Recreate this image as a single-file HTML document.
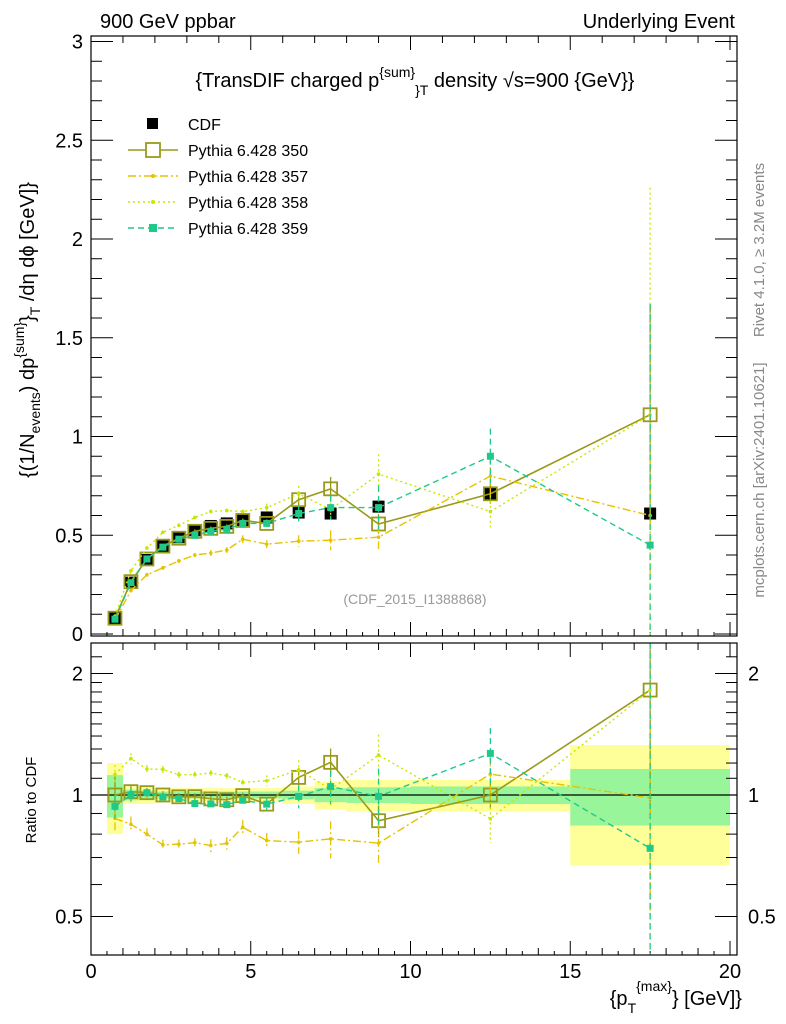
<!DOCTYPE html>
<html><head><meta charset="utf-8"><style>
body{margin:0;background:#fff;}
svg{display:block;font-family:"Liberation Sans",sans-serif;}
</style></head><body>
<svg id="c" width="786" height="1024" viewBox="0 0 786 1024">
<g id="bands"></g>
<g id="ticks"></g>
<g id="series"></g>
<rect x="91" y="36" width="646" height="600" fill="none" stroke="#000" stroke-width="1.2"/>
<rect x="91" y="643" width="646" height="312" fill="none" stroke="#000" stroke-width="1.2"/>
<text x="100" y="28" font-size="20">900 GeV ppbar</text>
<text x="735" y="28" font-size="20" text-anchor="end">Underlying Event</text>
<text x="415" y="87" font-size="20" text-anchor="middle">{TransDIF charged p<tspan dy="-10" font-size="14">{sum}</tspan><tspan dy="18" font-size="14">}</tspan><tspan font-size="14">T</tspan><tspan dy="-8"> density √s=900 {GeV}}</tspan></text>
<text x="415" y="604" font-size="14" fill="#999" text-anchor="middle">(CDF_2015_I1388868)</text>
<text transform="translate(764,250) rotate(-90)" font-size="15" fill="#888" text-anchor="middle">Rivet 4.1.0, ≥ 3.2M events</text>
<text transform="translate(764,480) rotate(-90)" font-size="15" fill="#888" text-anchor="middle">mcplots.cern.ch [arXiv:2401.10621]</text>
<text transform="translate(34,330) rotate(-90)" font-size="20" text-anchor="middle">{(1/N<tspan font-size="14" dy="6">events</tspan><tspan dy="-6">) dp</tspan><tspan font-size="14" dy="-10">{sum}</tspan><tspan dy="10">}</tspan><tspan font-size="14" dy="6">T</tspan><tspan dy="-6"> /dη  dϕ [GeV]}</tspan></text>
<text transform="translate(36,800) rotate(-90)" font-size="15" text-anchor="middle">Ratio to CDF</text>
<text x="742" y="1005" font-size="20" text-anchor="end">{p<tspan font-size="14" dy="8">T</tspan><tspan font-size="14" dy="-22">{max}</tspan><tspan dy="14">} [GeV]}</tspan></text>
<g id="legend"></g>
</svg>
<script>
const xs=[0.75,1.25,1.75,2.25,2.75,3.25,3.75,4.25,4.75,5.5,6.5,7.5,9,12.5,17.5];
const cdf=[0.08,0.26,0.375,0.445,0.49,0.525,0.547,0.56,0.577,0.59,0.615,0.61,0.645,0.71,0.61];
const s350=[0.08,0.265,0.38,0.445,0.485,0.52,0.535,0.545,0.575,0.56,0.68,0.735,0.557,0.71,1.11];
const e350=[0.01,0.01,0.01,0.01,0.01,0.01,0.01,0.01,0.01,0.01,0.03,0.06,0.05,0.05,0.56];
const s357=[0.07,0.22,0.30,0.335,0.37,0.4,0.41,0.425,0.48,0.455,0.47,0.475,0.49,0.8,0.6];
const e357=[0.005,0.01,0.01,0.01,0.01,0.01,0.015,0.015,0.02,0.02,0.03,0.05,0.06,0.1,0.3];
const s358=[0.09,0.32,0.435,0.515,0.55,0.59,0.62,0.625,0.62,0.64,0.71,0.63,0.81,0.62,1.11];
const e358=[0.005,0.01,0.01,0.01,0.01,0.01,0.01,0.01,0.01,0.02,0.04,0.06,0.1,0.08,1.15];
const s359=[0.075,0.26,0.38,0.44,0.48,0.5,0.52,0.53,0.56,0.56,0.61,0.64,0.64,0.9,0.45];
const e359=[0.005,0.01,0.01,0.01,0.01,0.01,0.01,0.01,0.01,0.02,0.04,0.06,0.11,0.14,1.22];
const binLo=[0.5,1,1.5,2,2.5,3,3.5,4,4.5,5,6,7,8,10,15];
const binHi=[1,1.5,2,2.5,3,3.5,4,4.5,5,6,7,8,10,15,20];
const statErr=[0.12,0.03,0.025,0.02,0.02,0.02,0.02,0.02,0.02,0.02,0.025,0.04,0.045,0.05,0.16];
const totErr=[0.2,0.05,0.05,0.04,0.04,0.04,0.04,0.04,0.04,0.04,0.05,0.08,0.09,0.09,0.33];
const xTicks=[0,5,10,15,20];
const yTicks=[0,0.5,1,1.5,2,2.5,3];
const yTickLabels=["0","0.5","1","1.5","2","2.5","3"];
const rTicks=[0.5,1,2];
const NS="http://www.w3.org/2000/svg";
const X=v=>91+v*31.95;
const Y=v=>634-v*197.5;
const R=v=>795-Math.log2(v)*121.5;
function mk(tag,at,parent){const e=document.createElementNS(NS,tag);for(const k in at)e.setAttribute(k,at[k]);document.getElementById(parent).appendChild(e);return e;}
for(let i=0;i<binLo.length;i++){
 let e=mk('rect',{x:X(binLo[i]),y:R(1+totErr[i]),width:X(binHi[i])-X(binLo[i]),height:R(1-totErr[i])-R(1+totErr[i]),fill:'#ffff99'},'bands');
 
 
 e=mk('rect',{x:X(binLo[i]),y:R(1+statErr[i]),width:X(binHi[i])-X(binLo[i]),height:R(1-statErr[i])-R(1+statErr[i]),fill:'#99f599'},'bands');
 
 
}
let l=mk('line',{x1:91,x2:737,y1:R(1),y2:R(1),stroke:'#000','stroke-width':1.3},'bands');


for(let v=0;v<=20;v+=1){const big=v%5==0;
 mk('line',{x1:X(v),x2:X(v),y1:955,y2:955-(big?14:7),stroke:'#000'},'ticks');
 mk('line',{x1:X(v),x2:X(v),y1:643,y2:643+(big?14:7),stroke:'#000'},'ticks');
 mk('line',{x1:X(v),x2:X(v),y1:636,y2:636-(big?14:7),stroke:'#000'},'ticks');
 mk('line',{x1:X(v),x2:X(v),y1:36,y2:36+(big?14:7),stroke:'#000'},'ticks');
}
for(let v=0.5;v<20;v+=1){
 mk('line',{x1:X(v),x2:X(v),y1:955,y2:951,stroke:'#000'},'ticks');
 mk('line',{x1:X(v),x2:X(v),y1:636,y2:632,stroke:'#000'},'ticks');
}
xTicks.forEach(v=>{const t=mk('text',{x:X(v),y:978,'font-size':20,'text-anchor':'middle'},'ticks');t.textContent=v;
 
 });
for(let v=0;v<=3.001;v+=0.1){const big=Math.abs(v*2-Math.round(v*2))<1e-6;
 mk('line',{x1:91,x2:91+(big?22:11),y1:Y(v),y2:Y(v),stroke:'#000'},'ticks');
 mk('line',{x1:737,x2:737-(big?22:11),y1:Y(v),y2:Y(v),stroke:'#000'},'ticks');}
yTicks.forEach((v,i)=>{const t=mk('text',{x:83,y:Y(v)+7,'font-size':20,'text-anchor':'end'},'ticks');t.textContent=yTickLabels[i];
 
 });
[0.4,0.5,0.6,0.7,0.8,0.9,1,1.1,1.2,1.3,1.4,1.5,1.6,1.7,1.8,1.9,2,2.2,2.4].forEach(v=>{const y=R(v);if(y<643||y>955)return;const big=rTicks.includes(v);
 mk('line',{x1:91,x2:91+(big?22:11),y1:y,y2:y,stroke:'#000'},'ticks');
 mk('line',{x1:737,x2:737-(big?22:11),y1:y,y2:y,stroke:'#000'},'ticks');});
rTicks.forEach(v=>{let t=mk('text',{x:83,y:R(v)+7,'font-size':20,'text-anchor':'end'},'ticks');t.textContent=v;
 
 
 t=mk('text',{x:748,y:R(v)+7,'font-size':20},'ticks');t.textContent=v;
 
 });
const series=[
 {name:'pythia-350',v:s350,e:e350,c:'#9a9a1a',dash:'',w:1.6,m:'osq'},
 {name:'pythia-357',v:s357,e:e357,c:'#e6c300',dash:'8,3,2,3',w:1.4,m:'dot'},
 {name:'pythia-358',v:s358,e:e358,c:'#c8e600',dash:'2,3',w:1.4,m:'dot'},
 {name:'pythia-359',v:s359,e:e359,c:'#1ec98a',dash:'6,4',w:1.4,m:'sq'}];
function marker(type,x,y,c,nm){let e;
 if(type=='osq')e=mk('rect',{x:x-6.5,y:y-6.5,width:13,height:13,fill:'none',stroke:c,'stroke-width':1.8},'series');
 else if(type=='sq')e=mk('rect',{x:x-3.5,y:y-3.5,width:7,height:7,fill:c},'series');
 else if(type=='bsq')e=mk('rect',{x:x-6,y:y-6,width:12,height:12,fill:c},'series');
 else e=mk('circle',{cx:x,cy:y,r:1.8,fill:c},'series');
 
 }
xs.forEach((x,i)=>{marker('bsq',X(x),Y(cdf[i]),'#000','cdf-point');});
series.forEach(s=>{
 ['top','ratio'].forEach(p=>{
  const fy=(i,d)=>p=='top'?Y(s.v[i]+d):R(Math.max(0.3,(s.v[i]+d)/cdf[i]));
  const pts=xs.map((x,i)=>X(x)+','+fy(i,0)).join(' ');
  const pl=mk('polyline',{points:pts,fill:'none',stroke:s.c,'stroke-width':s.w,'stroke-dasharray':s.dash},'series');
  
  
  xs.forEach((x,i)=>{const a=fy(i,s.e[i]),b=Math.min(p=='top'?636:955,fy(i,-s.e[i]));
   const top=p=='top'?36:643;
   const eb=mk('line',{x1:X(x),x2:X(x),y1:Math.max(top,a),y2:b,stroke:s.c,'stroke-width':1.3,'stroke-dasharray':s.dash},'series');
   
   
   marker(s.m,X(x),fy(i,0),s.c,s.name+'-point');});
 });
});
const leg=[['CDF','#000','','bsq'],['Pythia 6.428 350','#9a9a1a','','osq'],['Pythia 6.428 357','#e6c300','8,3,2,3','dot'],['Pythia 6.428 358','#c8e600','2,3','dot'],['Pythia 6.428 359','#1ec98a','6,4','sq']];
leg.forEach((L,i)=>{const y=124+i*26;
 if(i>0){const ln=mk('line',{x1:128,x2:178,y1:y,y2:y,stroke:L[1],'stroke-width':1.5,'stroke-dasharray':L[2]},'legend');
  
  }
 let r;
 if(L[3]=='bsq')r=mk('rect',{x:147,y:y-6,width:11,height:11,fill:'#000'},'legend');
 else if(L[3]=='osq')r=mk('rect',{x:146,y:y-7,width:14,height:14,fill:'#fff',stroke:L[1],'stroke-width':1.8},'legend');
 else if(L[3]=='sq')r=mk('rect',{x:149,y:y-4,width:8,height:8,fill:L[1]},'legend');
 else r=mk('circle',{cx:153,cy:y,r:2,fill:L[1]},'legend');
 
 
 const t=mk('text',{x:188,y:y+6,'font-size':16},'legend');t.textContent=L[0];
 
 
});
</script>
</body></html>
